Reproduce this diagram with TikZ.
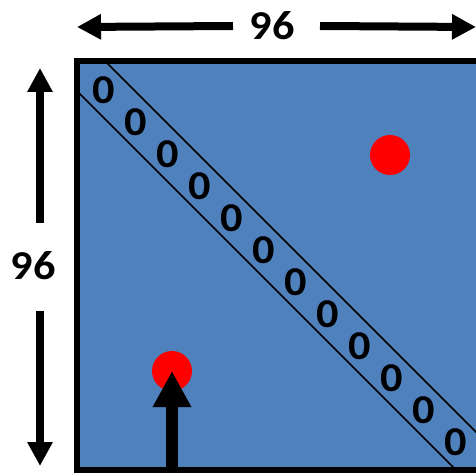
\documentclass[tikz,border=0pt]{standalone}
\usepackage{fontspec}
\newfontfamily\digfont{Carlito Bold}[ItalicFont={Carlito Bold}]
\usetikzlibrary{arrows.meta}
\definecolor{boxblue}{RGB}{79,129,189}
\newcommand{\digs}[1]{\scalebox{1.08}[1]{\digfont\fontsize{41}{41}\selectfont #1}}
\tikzset{
  lbl/.style={inner sep=0pt},
  zero/.style={inner sep=0pt},
  dimarrow/.style={line width=8pt, -{Triangle[length=24pt,width=24pt]}},
  bigarrow/.style={line width=12pt, -{Triangle[length=36pt,width=36pt]}},
  dot/.style={circle, fill=red, minimum size=40pt, inner sep=0pt},
  band/.style={line width=1.5pt, black}
}
\begin{document}
\begin{tikzpicture}[x=1pt,y=-1pt]
\useasboundingbox (0,0) rectangle (476,473);
\clip (0,0) rectangle (476,473);
% square
\fill[boxblue] (76.5,61) rectangle (485,469.5);
\begin{scope}
  \clip (79.5,64) rectangle (485,466.5);
  \draw[band] (60,16) -- (560,516);
  \draw[band] (60,74) -- (560,574);
\end{scope}
\draw[line width=6pt] (76.5,61) rectangle (485,469.5);
% zeros
\foreach \i in {0,...,11} {
  \node[zero] (z\i) at ({104+\i*32},{90+\i*32}) {\digs{0}};
}
% red dots
\node[dot] (d1) at (390,155) {};
\node[dot] (d2) at (172,371) {};
% top dimension
\node[lbl] (tt) at (272,26) {\digs{96}};
\coordinate (tl) at (77,27);
\coordinate (tr) at (476,27);
\draw[dimarrow] ([xshift=-39pt]tt.center) -- (tl);
\draw[dimarrow] ([xshift=48pt]tt.center) -- (tr);
% left dimension
\node[lbl] (lt) at (33,266) {\digs{96}};
\coordinate (lu) at (40,68);
\coordinate (ld) at (40,466);
\draw[dimarrow] (40,223) -- (lu);
\draw[dimarrow] (40,311) -- (ld);
% bottom arrow
\coordinate (ba) at (172,480);
\draw[bigarrow] (ba) -- (d2.center);
\end{tikzpicture}
\end{document}
